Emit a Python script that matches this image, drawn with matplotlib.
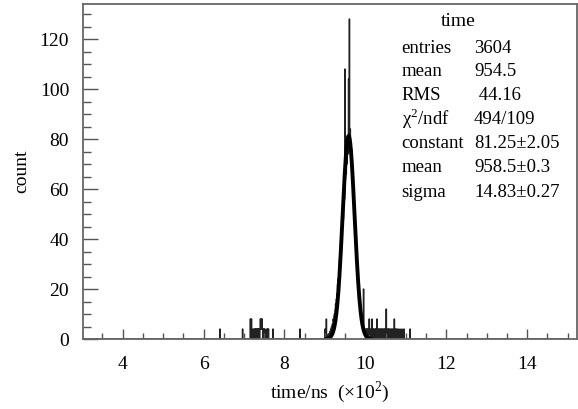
import numpy as np
import matplotlib
matplotlib.use("Agg")
import matplotlib.pyplot as plt
from matplotlib.ticker import MultipleLocator

plt.rcParams['font.family'] = ['Liberation Serif', 'DejaVu Serif']
plt.rcParams['mathtext.fontset'] = 'custom'
plt.rcParams['mathtext.rm'] = 'Liberation Serif'

# histogram: 1 ns bins, counts
peak_start = 905  # ns, first bin of the dense peak region
peak_counts = [0, 1, 0, 2, 1, 2, 1, 3, 2, 4,
               3, 5, 4, 6, 5, 8, 7, 9, 10, 9,
               12, 14, 13, 16, 18, 15, 22, 24, 22, 28,
               26, 32, 30, 38, 34, 42, 45, 42, 50, 52,
               48, 58, 60, 56, 108, 64, 68, 66, 72, 70,
               76, 80, 74, 104, 96, 128, 80, 84, 78, 74,
               76, 70, 66, 68, 60, 62, 56, 52, 50, 44,
               46, 40, 36, 38, 30, 28, 26, 22, 20, 18,
               16, 14, 12, 10, 11, 8, 7, 6, 5, 6,
               20, 4, 3, 4, 2, 3, 4, 2, 4, 1,
               4, 2, 0, 4, 8, 2, 4, 1]

# sparse bins away from the peak (ns, count)
side_bins = [640, 696, 715, 716, 718, 722, 725, 727, 729, 731, 733, 735,
             737, 739, 740, 741, 742, 743, 744, 745, 747, 749, 751, 756,
             758, 760, 771, 838, 900, 903,
             1014, 1016, 1018, 1020, 1023, 1025, 1028, 1030, 1032, 1035,
             1037, 1040, 1042, 1045, 1047, 1051, 1053, 1056, 1058, 1061,
             1064, 1067, 1071, 1074, 1077, 1080, 1085, 1090, 1095, 1110]
side_counts = [4, 4, 8, 8, 8, 4, 4, 4, 4, 4, 4, 4,
               4, 4, 8, 4, 8, 4, 8, 4, 4, 4, 4, 4,
               4, 4, 4, 4, 4, 8,
               4, 8, 4, 4, 4, 4, 8, 4, 4, 4,
               4, 4, 4, 4, 4, 12, 4, 4, 4, 4,
               4, 4, 8, 4, 4, 4, 4, 4, 4, 4]

# Gaussian fit parameters (from stats box)
fit_const, fit_mean, fit_sigma = 81.25, 958.5, 14.83
fit_range = (905, 1012)

stats_names = ['entries', 'mean', 'RMS', '\u03c7$^2$/ndf', 'constant', 'mean', 'sigma']
stats_values = ['3604', '954.5', ' 44.16', '494/109', '81.25\u00b12.05', '958.5\u00b10.3', '14.83\u00b10.27']

edges = np.arange(300, 1501, 1)
counts = np.zeros(len(edges) - 1)
counts[peak_start - 300: peak_start - 300 + len(peak_counts)] = peak_counts
for b, c in zip(side_bins, side_counts):
    counts[b - 300] = c

fig = plt.figure(figsize=(5.78, 4.09), dpi=100)
ax = fig.add_axes([83 / 578, 70 / 409, 494 / 578, 335 / 409])

ax.stairs(counts, edges / 100, color='#222222', lw=1.0)

xf = np.linspace(fit_range[0], fit_range[1], 400)
yf = fit_const * np.exp(-0.5 * ((xf - fit_mean) / fit_sigma) ** 2)
ax.plot(xf / 100, yf, color='black', lw=2.8)

ax.set_xlim(3.02, 15.23)
ax.set_ylim(0, 134)
ax.xaxis.set_major_locator(MultipleLocator(2))
ax.xaxis.set_minor_locator(MultipleLocator(0.5))
ax.yaxis.set_major_locator(MultipleLocator(20))
ax.yaxis.set_minor_locator(MultipleLocator(5))
ax.tick_params(axis='x', which='major', direction='in', length=7.5, width=1, color='#555555',
               labelsize=14, pad=12.5)
ax.tick_params(axis='x', which='minor', direction='in', length=4, width=1, color='#555555')
ax.tick_params(axis='y', which='major', direction='in', length=11, width=1, color='#555555',
               labelsize=14, pad=10)
ax.tick_params(axis='y', which='minor', direction='in', length=6, width=1, color='#555555')
for s in ax.spines.values():
    s.set_color('#666666')
    s.set_linewidth(1.3)

ax.set_xlabel('time/ns  (\u00d710$^2$)', fontsize=14, labelpad=4.5)
ax.set_ylabel('count', fontsize=14, labelpad=7)

# stats box (no frame)
fig.text(458 / 578, 1 - 21.7 / 409, 'time', fontsize=14, ha='center', va='center')
ys = [48.3, 71.7, 95.7, 119, 143.3, 167.7, 192.3]
for name, val, y in zip(stats_names, stats_values, ys):
    fig.text(401.7 / 578, 1 - y / 409, name, fontsize=13.5, ha='left', va='center')
    fig.text(474 / 578, 1 - y / 409, val, fontsize=13.5, ha='left', va='center')

fig.savefig('out.png', dpi=100)
